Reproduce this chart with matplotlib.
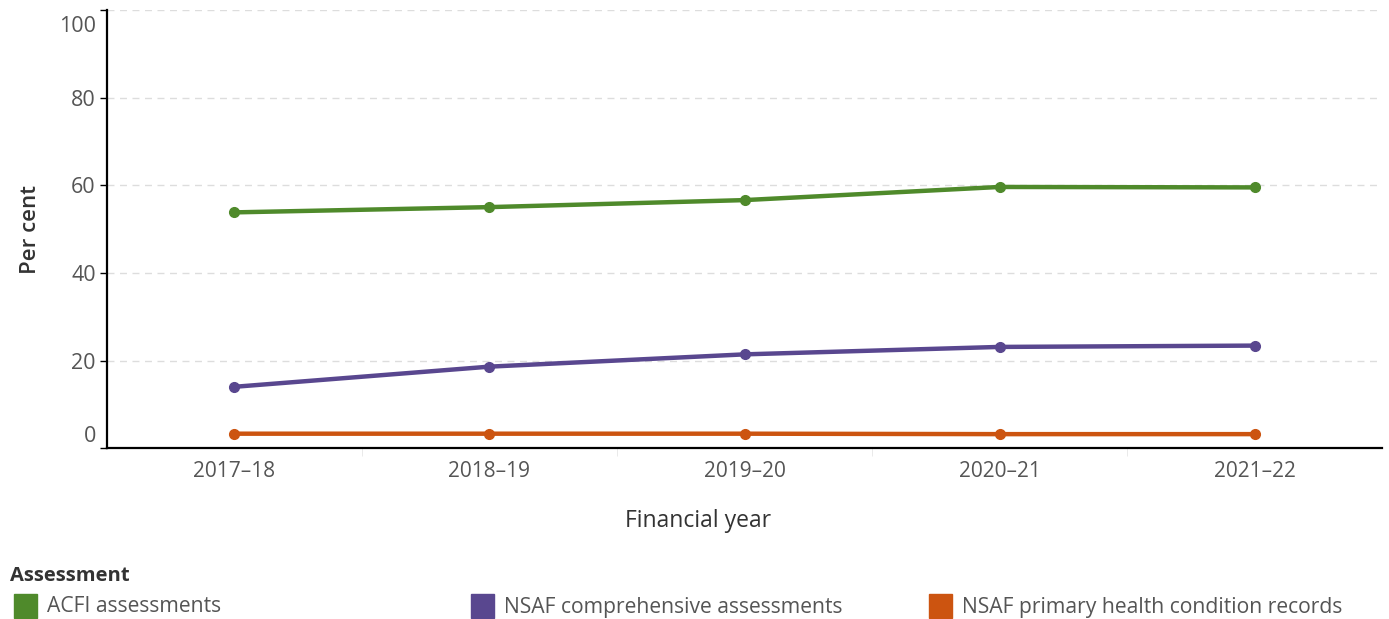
import matplotlib.pyplot as plt
from matplotlib.patches import Rectangle
from matplotlib.transforms import ScaledTranslation
import numpy as np

years = ['2017–18', '2018–19', '2019–20', '2020–21', '2021–22']
acfi = [53.8, 55.0, 56.6, 59.6, 59.5]
nsaf_comp = [14.0, 18.6, 21.4, 23.1, 23.4]
nsaf_phc = [3.3, 3.3, 3.3, 3.2, 3.2]

names = ['ACFI assessments', 'NSAF comprehensive assessments',
         'NSAF primary health condition records']
colors = ['#4f8a2b', '#59478f', '#cc5410']

plt.rcParams['font.family'] = ['Open Sans', 'DejaVu Sans']

fig = plt.figure(figsize=(13.89, 6.19), dpi=100)
ax = fig.add_axes([0.077, 0.276, 0.918, 0.708])

x = np.arange(len(years))
for vals, c in zip([acfi, nsaf_comp, nsaf_phc], colors):
    ax.plot(x, vals, color=c, lw=3.2, marker='o', ms=7, solid_capstyle='round')

ax.set_xlim(-0.5, 4.5)
ax.set_ylim(0, 100)
ax.set_xticks(x)
ax.set_xticklabels(years, fontsize=15, color='#555555')
ax.set_xticks(np.arange(0.5, 4.0, 1), minor=True)
ax.tick_params(axis='x', which='major', length=0, pad=9)
ax.tick_params(axis='x', which='minor', length=6, color='#e6e6e6')

ax.set_yticks([0, 20, 40, 60, 80, 100])
ax.set_yticklabels(['0', '20', '40', '60', '80', '100'], fontsize=15.5, color='#555555')
ax.tick_params(axis='y', length=5, width=1, color='black', pad=3)
labs = ax.get_yticklabels()
labs[0].set_transform(labs[0].get_transform() + ScaledTranslation(0, 0.14, fig.dpi_scale_trans))
labs[-1].set_transform(labs[-1].get_transform() + ScaledTranslation(0, -0.14, fig.dpi_scale_trans))

ax.grid(axis='y', color='#dddddd', ls=(0, (5, 4)), lw=1)
ax.set_axisbelow(True)
for s in ['top', 'right']:
    ax.spines[s].set_visible(False)
ax.spines['left'].set_linewidth(1.6)
ax.spines['bottom'].set_linewidth(1.6)

ax.set_ylabel('Per cent', fontsize=16, color='#333333', fontweight='semibold')
ax.yaxis.set_label_coords(-(107 - 31) / (1382 - 107), 0.5)
ax.set_xlabel('Financial year', fontsize=16.5, color='#333333')
ax.xaxis.set_label_coords((698 - 107) / (1382 - 107), -(521 - 448) / (448 - 10), )
ax.xaxis.label.set_va('center')
ax.yaxis.label.set_va('center')

# legend
fig.text(10 / 1389, 1 - 576 / 619, 'Assessment', fontsize=14.5, fontweight='bold',
         color='#333333', va='center')
xs = [14, 471, 929]
for xi, n, c in zip(xs, names, colors):
    fig.patches.append(Rectangle((xi / 1389, 1 - 618 / 619), 23 / 1389, 24 / 619,
                                 transform=fig.transFigure, color=c))
    fig.text((xi + 33) / 1389, 1 - 607 / 619, n, fontsize=15.2, color='#555555', va='center')

fig.savefig('out.png', dpi=100)
